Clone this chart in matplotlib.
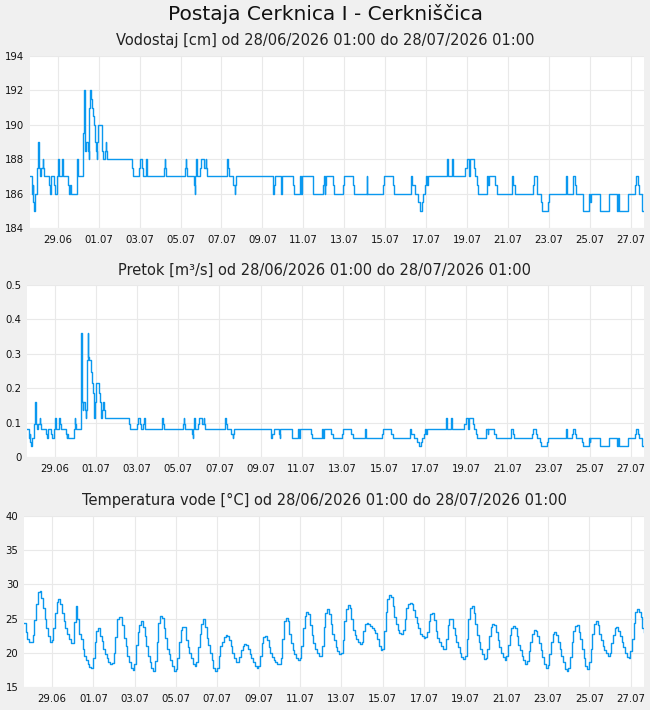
import datetime as dt
import numpy as np
import matplotlib
matplotlib.use("Agg")
import matplotlib.pyplot as plt
import matplotlib.dates as mdates

plt.rcParams['font.family'] = ['DejaVu Sans']

# series start (first sample) and title texts
start = dt.datetime(2026, 6, 28, 1, 0)
title = "Postaja Cerknica I - Cerkniščica"
period = "od 28/06/2026 01:00 do 28/07/2026 01:00"
subtitles = ["Vodostaj [cm] " + period,
             "Pretok [m³/s] " + period,
             "Temperatura vode [°C] " + period]

# water level / discharge: hours after start where a new value begins
step_hours = [
    0, 2, 2.7, 3.5, 4, 5, 5.5, 6, 8.6, 9.8,
    10.2, 10.6, 11, 11.7, 12.9, 14.9, 15.6, 16.8, 22.7, 23.8,
    24.2, 24.6, 28.5, 29.7, 31.3, 32, 32.4, 33.2, 33.6, 34.4,
    37.1, 37.9, 38.3, 39.1, 45, 46.1, 46.9, 48.1, 54.7, 55.5,
    55.9, 56.7, 62.5, 63.3, 64.1, 64.9, 65.7, 67.6, 68.8, 69.2,
    69.6, 70.8, 71.1, 72.3, 74.3, 75.4, 76.6, 77.8, 78.6, 79,
    80.1, 84, 84.8, 86, 88, 89.1, 89.5, 90.7, 119.2, 120.4,
    128.2, 129, 131.7, 132.5, 135.6, 136.4, 137.6, 157.5, 157.9, 158.7,
    159.5, 181.8, 183, 183.3, 184.5, 192.7, 193.5, 193.9, 194.7, 195.5,
    196.3, 199.4, 200.6, 204, 206.4, 206.8, 207.6, 230.6, 231.4, 232.6,
    233, 238.4, 240.4, 240.8, 241.6, 285.3, 286.1, 287.7, 293.9, 294.7,
    295.1, 295.5, 308.8, 309.6, 316.6, 317.4, 318.6, 331.5, 332.3, 344,
    344.8, 345.9, 346.3, 347.1, 354.9, 356.5, 367.4, 368.2, 378.4, 379.9,
    394.8, 395.6, 414.3, 415.1, 425.3, 426.8, 446.4, 447.2, 447.9, 451.5,
    455.3, 457.3, 460, 461.2, 463.2, 464.3, 465.1, 467.1, 488.6, 489,
    490.1, 490.5, 494.5, 495.5, 496.4, 510.1, 512, 514.8, 515.6, 520.6,
    521.8, 523.8, 525.7, 535.5, 537.4, 538.5, 545.3, 547.2, 564.8, 566.8,
    568.7, 589.4, 590.6, 594.1, 594.9, 598.8, 600, 607, 608.2, 628.9,
    629.7, 636.3, 637.1, 639.5, 640.3, 648.1, 648.9, 655.9, 656.7, 657.5,
    668.4, 679.3, 688.7, 689.9, 691, 701.6, 709.4, 710.2, 713.3, 714.1,
    717.2, 720]

level_cm = [
    187, 186.5, 186, 186.5, 185.5, 185, 185.5, 186, 187.5, 189,
    187.5, 188, 187.5, 187, 187.5, 188, 187.5, 187, 186.5, 186,
    186.5, 187, 186.5, 186, 186.5, 187, 187.5, 188, 187.5, 187,
    187.5, 188, 187.5, 187, 186.5, 186, 186.5, 186, 187, 188,
    187.5, 187, 189.5, 192, 189, 188.5, 189, 188.5, 188, 188.5,
    191, 192, 191.5, 191, 190.5, 190, 189, 188.5, 188, 189,
    190, 189, 188.5, 188, 188.5, 189, 188.5, 188, 187.5, 187,
    187.5, 188, 187.5, 187, 187.5, 188, 187, 187.5, 188, 187.5,
    187, 187.5, 188, 187.5, 187, 186.5, 186, 187, 188, 187.5,
    187, 187.5, 188, 187.5, 188, 187.5, 187, 187.5, 188, 187.5,
    187, 186.5, 186, 186.5, 187, 186, 186.5, 187, 186.5, 186,
    186.5, 187, 186.5, 186, 187, 186, 187, 186.5, 186, 186.5,
    187, 186, 186.5, 187, 186.5, 186, 186.5, 187, 186.5, 186,
    187, 186, 186.5, 187, 186.5, 186, 186.5, 187, 186.5, 186,
    185.5, 185, 185.5, 186, 186.5, 187, 186.5, 187, 187.5, 188,
    187.5, 187, 188, 187.5, 187, 187.5, 188, 187, 188, 187.5,
    187, 186.5, 186, 187, 186.5, 187, 186.5, 186, 187, 186.5,
    186, 186.5, 187, 186.5, 186, 185.5, 185, 185.5, 186, 187,
    186, 186.5, 187, 186.5, 186, 185.5, 185, 186, 185.5, 186,
    185, 186, 185, 186, 185, 186, 186.5, 187, 186.5, 186,
    185, 185]

flow_m3s = [
    0.082, 0.068, 0.055, 0.068, 0.045, 0.032, 0.045, 0.055, 0.097, 0.16,
    0.097, 0.113, 0.097, 0.082, 0.097, 0.113, 0.097, 0.082, 0.068, 0.055,
    0.068, 0.082, 0.068, 0.055, 0.068, 0.082, 0.097, 0.113, 0.097, 0.082,
    0.097, 0.113, 0.097, 0.082, 0.068, 0.055, 0.068, 0.055, 0.082, 0.113,
    0.097, 0.082, 0.22, 0.36, 0.16, 0.137, 0.16, 0.137, 0.113, 0.137,
    0.283, 0.36, 0.29, 0.283, 0.247, 0.215, 0.186, 0.16, 0.113, 0.16,
    0.215, 0.186, 0.16, 0.113, 0.137, 0.16, 0.137, 0.113, 0.097, 0.082,
    0.097, 0.113, 0.097, 0.082, 0.097, 0.113, 0.082, 0.097, 0.113, 0.097,
    0.082, 0.097, 0.113, 0.097, 0.082, 0.068, 0.055, 0.082, 0.113, 0.097,
    0.082, 0.097, 0.113, 0.097, 0.113, 0.097, 0.082, 0.097, 0.113, 0.097,
    0.082, 0.068, 0.055, 0.068, 0.082, 0.055, 0.068, 0.082, 0.068, 0.055,
    0.068, 0.082, 0.068, 0.055, 0.082, 0.055, 0.082, 0.068, 0.055, 0.068,
    0.082, 0.055, 0.068, 0.082, 0.068, 0.055, 0.068, 0.082, 0.068, 0.055,
    0.082, 0.055, 0.068, 0.082, 0.068, 0.055, 0.068, 0.082, 0.068, 0.055,
    0.045, 0.032, 0.045, 0.055, 0.068, 0.082, 0.068, 0.082, 0.097, 0.113,
    0.097, 0.082, 0.113, 0.097, 0.082, 0.097, 0.113, 0.082, 0.113, 0.097,
    0.082, 0.068, 0.055, 0.082, 0.068, 0.082, 0.068, 0.055, 0.082, 0.068,
    0.055, 0.068, 0.082, 0.068, 0.055, 0.045, 0.032, 0.045, 0.055, 0.082,
    0.055, 0.068, 0.082, 0.068, 0.055, 0.045, 0.032, 0.055, 0.045, 0.055,
    0.032, 0.055, 0.032, 0.055, 0.032, 0.055, 0.068, 0.082, 0.068, 0.055,
    0.032, 0.032]

# water temperature, one reading every 2 hours from start
temp_step_h = 2
temp_c = [
    24.3, 23.0, 22.0, 21.6, 21.6, 22.6, 24.8, 27.2, 28.9, 29.0, 28.0, 26.6,
    25.0, 23.6, 22.4, 21.6, 21.8, 23.6, 25.8, 27.4, 27.9, 27.2, 25.8, 24.6,
    23.6, 22.8, 22.0, 21.4, 21.5, 24.5, 26.9, 25.0, 22.8, 22.0, 20.6, 19.6,
    18.9, 18.3, 17.9, 17.8, 19.2, 21.6, 23.2, 23.6, 22.4, 21.7, 20.6, 19.8,
    19.2, 18.7, 18.4, 18.5, 20.0, 22.3, 25.0, 25.3, 25.2, 24.0, 22.2, 21.0,
    19.6, 18.6, 17.8, 17.5, 18.4, 21.2, 23.0, 24.0, 24.6, 23.8, 22.4, 21.0,
    19.6, 18.6, 17.8, 17.4, 18.8, 21.6, 24.4, 25.4, 25.1, 23.6, 22.2, 20.6,
    19.8, 19.0, 18.0, 17.3, 17.6, 19.2, 21.6, 23.4, 23.7, 23.7, 21.8, 20.8,
    20.0, 19.2, 18.4, 18.0, 18.6, 20.8, 22.8, 24.2, 24.9, 23.8, 22.2, 21.2,
    20.0, 18.9, 17.8, 17.4, 17.8, 19.6, 21.0, 21.6, 22.3, 22.6, 22.4, 21.8,
    21.0, 20.0, 19.2, 18.6, 18.6, 19.4, 20.4, 21.0, 21.3, 21.1, 20.5, 19.8,
    19.2, 18.6, 18.1, 17.8, 18.0, 19.6, 21.4, 22.3, 22.5, 21.8, 20.8, 20.0,
    19.4, 19.0, 18.6, 18.4, 18.3, 19.2, 22.0, 24.6, 25.1, 24.6, 22.8, 21.4,
    20.4, 19.8, 19.3, 19.0, 19.3, 21.0, 23.6, 25.4, 26.0, 25.6, 24.0, 22.6,
    21.4, 20.6, 20.0, 19.5, 19.5, 21.0, 23.8, 25.8, 26.4, 25.6, 24.2, 22.8,
    21.8, 20.8, 20.2, 19.8, 20.0, 21.8, 24.6, 26.4, 27.0, 26.6, 25.0, 23.4,
    22.6, 22.0, 21.6, 21.3, 21.6, 23.2, 24.2, 24.3, 24.2, 23.9, 23.6, 23.4,
    22.9, 22.0, 21.0, 20.4, 20.6, 23.2, 26.0, 27.8, 28.5, 28.2, 26.8, 25.2,
    24.2, 23.4, 22.9, 22.7, 23.4, 25.0, 26.6, 27.2, 27.3, 27.2, 26.2, 25.2,
    24.4, 23.6, 22.8, 22.4, 22.2, 22.3, 23.0, 24.6, 25.6, 25.8, 24.8, 23.2,
    22.2, 21.6, 21.0, 20.5, 20.5, 22.0, 24.0, 25.0, 24.9, 23.6, 22.6, 21.6,
    20.8, 20.0, 19.4, 19.1, 19.6, 22.0, 25.0, 26.6, 26.9, 25.8, 24.2, 22.6,
    21.6, 20.6, 19.8, 19.1, 19.2, 20.6, 22.4, 23.8, 24.2, 24.0, 23.0, 21.8,
    20.8, 20.0, 19.4, 19.0, 19.6, 21.2, 22.6, 23.6, 23.9, 23.6, 22.4, 21.2,
    20.4, 19.6, 18.9, 18.4, 18.8, 20.2, 21.6, 22.8, 23.3, 23.2, 22.4, 21.4,
    20.4, 19.4, 18.4, 17.8, 18.2, 19.8, 21.6, 22.8, 23.1, 22.6, 21.6, 20.6,
    19.6, 18.6, 17.6, 17.3, 17.8, 19.4, 21.6, 23.2, 23.9, 24.0, 23.0, 22.0,
    20.6, 19.2, 18.0, 17.6, 18.6, 20.6, 22.8, 24.2, 24.6, 24.0, 22.8, 21.8,
    21.0, 20.4, 19.9, 19.6, 20.0, 21.4, 22.6, 23.6, 23.8, 23.2, 22.4, 21.6,
    20.8, 20.0, 19.4, 19.2, 20.2, 22.0, 24.4, 26.0, 26.4, 26.0, 25.2, 23.6,
    23.1]

# axis ticks
level_ticks = [184, 186, 188, 190, 192, 194]
flow_ticks = [0, 0.1, 0.2, 0.3, 0.4, 0.5]
flow_tick_labels = ["0", "0.1", "0.2", "0.3", "0.4", "0.5"]
temp_ticks = [15, 20, 25, 30, 35, 40]
date_ticks = [dt.datetime(2026, 6, 29, 9, 30) + dt.timedelta(days=2 * k) for k in range(15)]

step_times = [start + dt.timedelta(hours=h) for h in step_hours]
temp_times = [start + dt.timedelta(hours=temp_step_h * i) for i in range(len(temp_c))]
end = start + dt.timedelta(hours=720)

line_col = "#0a98ef"
bg = "#f0f0f0"

fig = plt.figure(figsize=(6.5, 7.1), dpi=100, facecolor=bg)
W, H = 650.0, 710.0

def make_axes(left, top, bottom, right=644):
    return fig.add_axes([left / W, 1 - bottom / H, (right - left) / W, (bottom - top) / H])

ax1 = make_axes(30, 56, 228)
ax2 = make_axes(27, 285, 457)
ax3 = make_axes(24, 516, 687)

ax1.plot(step_times, level_cm, drawstyle="steps-post", color=line_col, lw=1.0)
ax2.plot(step_times, flow_m3s, drawstyle="steps-post", color=line_col, lw=1.0)
ax3.plot(temp_times, temp_c, drawstyle="steps-post", color=line_col, lw=1.0)

ax1.set_ylim(184, 194)
ax1.set_yticks(level_ticks)
ax2.set_ylim(0, 0.5)
ax2.set_yticks(flow_ticks)
ax2.set_yticklabels(flow_tick_labels)
ax3.set_ylim(15, 40)
ax3.set_yticks(temp_ticks)

for ax in (ax1, ax2, ax3):
    ax.set_facecolor("white")
    ax.set_xlim(start, end)
    ax.set_xticks(date_ticks)
    ax.xaxis.set_major_formatter(mdates.DateFormatter("%d.%m"))
    ax.grid(True, color="#e9e9e9", lw=0.8)
    ax.set_axisbelow(True)
    for s in ax.spines.values():
        s.set_visible(False)
    ax.tick_params(length=0, labelsize=7.3, colors="#111111", pad=4)
    ax.tick_params(axis="x", pad=5)

fig.text(0.5, 1 - 14 / H, title, ha="center", va="center", fontsize=14.5, color="#111111")
for sub, yy in zip(subtitles, [40, 270, 500]):
    fig.text(0.5, 1 - yy / H, sub, ha="center", va="center", fontsize=10.5, color="#222222")

fig.savefig("out.png", dpi=100, facecolor=bg)
